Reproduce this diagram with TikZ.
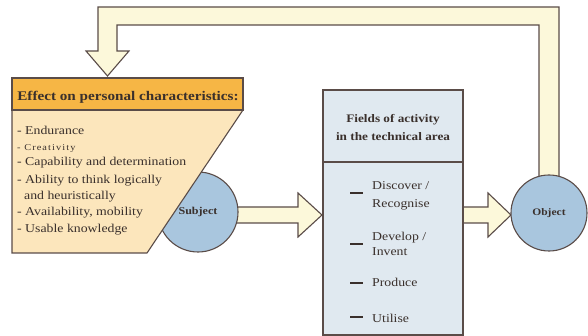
\documentclass[tikz,border=0pt]{standalone}
\usepackage{fontspec}
\setmainfont{Liberation Serif}[FakeStretch=1.15]
\begin{document}
\begin{tikzpicture}[x=1pt,y=-1pt,
  outline/.style={draw=edge,line width=1.1pt,line join=miter},
  flowarrow/.style={outline,fill=arrowfill},
  disc/.style={outline,fill=discfill},
  listtext/.style={anchor=base west,inner sep=0pt,font=\fontsize{12}{14}\selectfont,text=ink},
  midtext/.style={anchor=base west,inner sep=0pt,font=\fontsize{12}{14}\selectfont,text=ink},
  itemdash/.style={draw=ink,line width=1.2pt}]
\definecolor{edge}{HTML}{5A4C48}
\definecolor{ink}{HTML}{3A302C}
\definecolor{headfill}{HTML}{F6B645}
\definecolor{bodyfill}{HTML}{FCE6BC}
\definecolor{discfill}{HTML}{A9C6DE}
\definecolor{boxfill}{HTML}{E0E9F0}
\definecolor{arrowfill}{HTML}{FCF8DA}

\useasboundingbox (0,0) rectangle (588,336);

% feedback loop from the object back to the characteristics
\draw[flowarrow] (539,185) -- (539,25) -- (117,25) -- (117,51) -- (129,51)
  -- (107.5,76) -- (86,51) -- (98,51) -- (98,7) -- (559,7) -- (559,185) -- cycle;

% subject -> fields of activity
\draw[flowarrow] (225,207) -- (298,207) -- (298,193) -- (322,215)
  -- (298,237) -- (298,223) -- (225,223) -- cycle;

% fields of activity -> object
\draw[flowarrow] (455,207) -- (488,207) -- (488,193) -- (511,215)
  -- (488,237) -- (488,223) -- (455,223) -- cycle;

% the two discs
\node[disc,circle,minimum size=80pt,inner sep=0pt] (subject) at (198,212) {};
\node[font=\bfseries\fontsize{10.5}{12}\selectfont,text=ink] (subjectlabel) at (198,212) {Subject};
\node[disc,circle,minimum size=76pt,inner sep=0pt] (object) at (549,213) {};
\node[font=\bfseries\fontsize{10}{12}\selectfont,text=ink] (objectlabel) at (549,213) {Object};

% personal characteristics panel
\draw[outline,fill=bodyfill] (12,110) -- (243,110) -- (147,253) -- (12,253) -- cycle;
\draw[outline,fill=headfill] (12,78) rectangle (243,110);
\node[anchor=base,inner sep=0pt,font=\bfseries\fontsize{13.2}{15}\selectfont,text=ink]
  (headtext) at (128,101) {Effect on personal characteristics:};
\node[listtext] (l1) at (17,135) {- Endurance};
\node[listtext,font=\fontsize{9}{11}\selectfont\addfontfeature{LetterSpace=12}] (l2) at (17,151) {- Creativity};
\node[listtext] (l3) at (17,166) {- Capability and determination};
\node[listtext] (l4) at (17,184) {- Ability to think logically};
\node[listtext] (l5) at (24,200) {and heuristically};
\node[listtext] (l6) at (17,216) {- Availability, mobility};
\node[listtext] (l7) at (17,233) {- Usable knowledge};

% fields of activity box
\draw[outline,fill=boxfill] (323,90) rectangle (463,335);
\draw[outline] (323,162) -- (463,162);
\node[anchor=base,inner sep=0pt,font=\bfseries\fontsize{11.5}{14}\selectfont,text=ink] (f1) at (393,123) {Fields of activity};
\node[anchor=base,inner sep=0pt,font=\bfseries\fontsize{11.5}{14}\selectfont,text=ink] (f2) at (393,141) {in the technical area};

\draw[itemdash] (350,193) -- (363,193);
\node[midtext] (a1) at (372,190) {Discover /};
\node[midtext] (a2) at (372,208) {Recognise};
\draw[itemdash] (350,244) -- (363,244);
\node[midtext] (b1) at (372,241) {Develop /};
\node[midtext] (b2) at (372,256) {Invent};
\draw[itemdash] (350,283) -- (363,283);
\node[midtext] (c1) at (372,287) {Produce};
\draw[itemdash] (350,317) -- (363,317);
\node[midtext] (d1) at (372,322) {Utilise};
\end{tikzpicture}
\end{document}
